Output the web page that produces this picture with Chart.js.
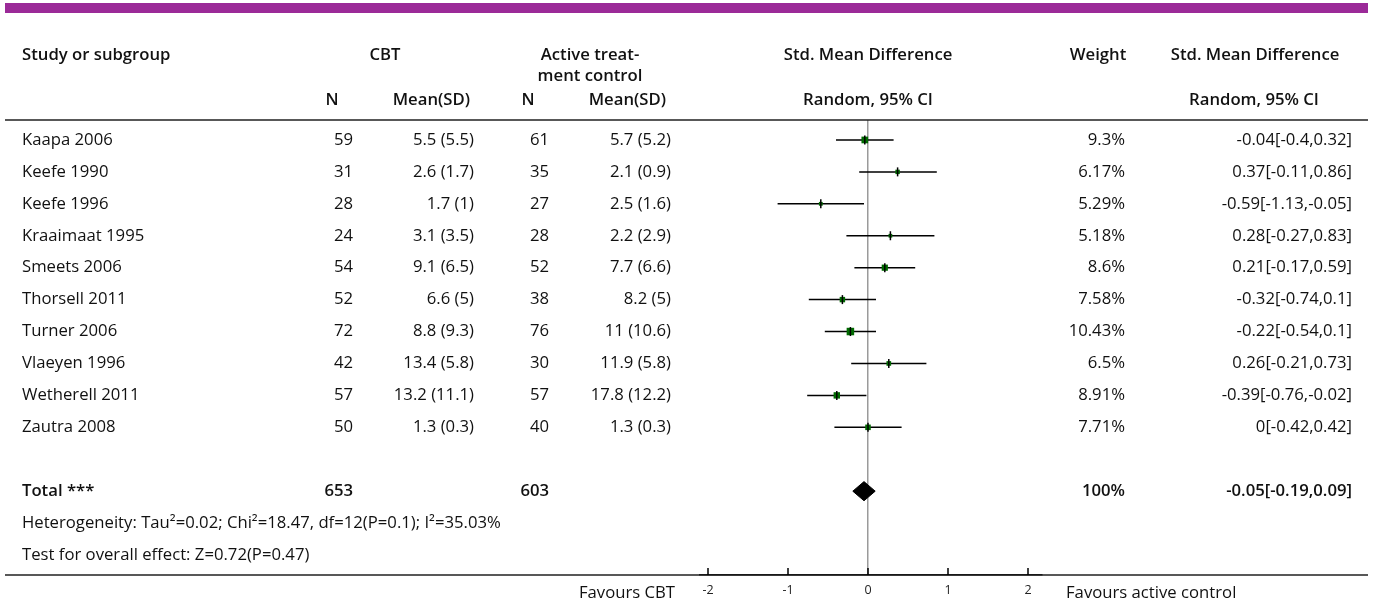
<!DOCTYPE html>
<html>
<head>
<meta charset="utf-8">
<script src="https://cdn.jsdelivr.net/npm/chart.js@4"></script>
<style>
  html, body { margin: 0; padding: 0; background: #fff; }
  canvas { display: block; }
</style>
</head>
<body>
<canvas id="forest" width="1375" height="606"></canvas>
<script>
// Study data
const studies = ['Kaapa 2006', 'Keefe 1990', 'Keefe 1996', 'Kraaimaat 1995', 'Smeets 2006',
    'Thorsell 2011', 'Turner 2006', 'Vlaeyen 1996', 'Wetherell 2011', 'Zautra 2008'];
const cbtN = [59, 31, 28, 24, 54, 52, 72, 42, 57, 50];
const cbtMean = [5.5, 2.6, 1.7, 3.1, 9.1, 6.6, 8.8, 13.4, 13.2, 1.3];
const cbtSD = [5.5, 1.7, 1, 3.5, 6.5, 5, 9.3, 5.8, 11.1, 0.3];
const ctrlN = [61, 35, 27, 28, 52, 38, 76, 30, 57, 40];
const ctrlMean = [5.7, 2.1, 2.5, 2.2, 7.7, 8.2, 11, 11.9, 17.8, 1.3];
const ctrlSD = [5.2, 0.9, 1.6, 2.9, 6.6, 5, 10.6, 5.8, 12.2, 0.3];
const weights = [9.3, 6.17, 5.29, 5.18, 8.6, 7.58, 10.43, 6.5, 8.91, 7.71];
const smd = [-0.04, 0.37, -0.59, 0.28, 0.21, -0.32, -0.22, 0.26, -0.39, 0];
const ciLow = [-0.4, -0.11, -1.13, -0.27, -0.17, -0.74, -0.54, -0.21, -0.76, -0.42];
const ciHigh = [0.32, 0.86, -0.05, 0.83, 0.59, 0.1, 0.1, 0.73, -0.02, 0.42];

// Pooled result
const totalN = [653, 603];
const totalSmd = -0.05;
const totalCi = [-0.19, 0.09];
const totalRow = 11;

const xTicks = [-2, -1, 0, 1, 2];

const FONT = '"Open Sans", "Noto Sans", sans-serif';
const TEXT = '#111';

// CI lines as one broken line
const ciPoints = [];
studies.forEach((s, i) => {
    ciPoints.push({ x: ciLow[i], y: i }, { x: ciHigh[i], y: i }, { x: NaN, y: NaN });
});

const markPoints = studies.map((s, i) => ({ x: smd[i], y: i }));

const diamond = [
    { x: totalCi[0], y: totalRow },
    { x: totalSmd, y: totalRow - 0.3 },
    { x: totalCi[1], y: totalRow },
    { x: totalSmd, y: totalRow + 0.3 },
    { x: totalCi[0], y: totalRow }
];

const tablePlugin = {
    id: 'table',
    beforeDraw(chart) {
        const ctx = chart.ctx;
        ctx.save();
        // purple band
        ctx.fillStyle = '#9b2a98';
        ctx.fillRect(5, 3, 1363, 10);
        ctx.restore();
    },
    afterDraw(chart) {
        const ctx = chart.ctx;
        const xScale = chart.scales.x;
        const yScale = chart.scales.y;
        ctx.save();
        ctx.fillStyle = TEXT;
        ctx.textBaseline = 'middle';

        function txt(s, x, y, align, bold) {
            ctx.font = (bold ? '600 ' : '') + '16.7px ' + FONT;
            ctx.textAlign = align;
            ctx.fillText(s, x, y);
        }

        // header and bottom rules
        ctx.strokeStyle = '#222';
        ctx.lineWidth = 1.5;
        ctx.beginPath();
        ctx.moveTo(5, 120); ctx.lineTo(1368, 120);
        ctx.moveTo(5, 575); ctx.lineTo(1368, 575);
        ctx.stroke();

        // small upward ticks on the axis
        ctx.strokeStyle = '#000';
        ctx.lineWidth = 1.5;
        ctx.beginPath();
        xTicks.forEach(v => {
            const px = Math.round(xScale.getPixelForValue(v));
            ctx.moveTo(px, 575); ctx.lineTo(px, 568);
        });
        ctx.stroke();

        // headers
        txt('Study or subgroup', 22, 55, 'left', true);
        txt('CBT', 385, 55, 'center', true);
        txt('Active treat-', 590, 55, 'center', true);
        txt('ment control', 590, 76, 'center', true);
        txt('Std. Mean Difference', 868, 55, 'center', true);
        txt('Weight', 1098, 55, 'center', true);
        txt('Std. Mean Difference', 1255, 55, 'center', true);
        txt('N', 332, 100, 'center', true);
        txt('Mean(SD)', 470, 100, 'right', true);
        txt('N', 528, 100, 'center', true);
        txt('Mean(SD)', 666, 100, 'right', true);
        txt('Random, 95% CI', 868, 100, 'center', true);
        txt('Random, 95% CI', 1254, 100, 'center', true);

        // study rows
        studies.forEach((s, i) => {
            const y = yScale.getPixelForValue(i);
            txt(s, 22, y, 'left');
            txt(String(cbtN[i]), 353, y, 'right');
            txt(cbtMean[i] + ' (' + cbtSD[i] + ')', 474, y, 'right');
            txt(String(ctrlN[i]), 549, y, 'right');
            txt(ctrlMean[i] + ' (' + ctrlSD[i] + ')', 671, y, 'right');
            txt(weights[i] + '%', 1125, y, 'right');
            txt(smd[i] + '[' + ciLow[i] + ',' + ciHigh[i] + ']', 1352, y, 'right');
        });

        // total rows
        const yt = yScale.getPixelForValue(totalRow);
        txt('Total ***', 22, yt, 'left', true);
        txt(String(totalN[0]), 353, yt, 'right', true);
        txt(String(totalN[1]), 549, yt, 'right', true);
        txt('100%', 1125, yt, 'right', true);
        txt(totalSmd + '[' + totalCi[0] + ',' + totalCi[1] + ']', 1352, yt, 'right', true);
        txt('Heterogeneity: Tau\u00b2=0.02; Chi\u00b2=18.47, df=12(P=0.1); I\u00b2=35.03%', 22, yScale.getPixelForValue(12), 'left');
        txt('Test for overall effect: Z=0.72(P=0.47)', 22, yScale.getPixelForValue(13), 'left');

        // favours labels
        txt('Favours CBT', 675, 593, 'right');
        txt('Favours active control', 1066, 593, 'left');
        ctx.restore();
    }
};

new Chart(document.getElementById('forest'), {
    type: 'scatter',
    data: {
        datasets: [
            {
                // vertical ticks through markers
                data: markPoints,
                pointStyle: 'line',
                rotation: 90,
                pointRadius: 4.5,
                borderColor: '#000',
                borderWidth: 1.5,
                order: 1
            },
            {
                data: markPoints,
                pointStyle: 'rect',
                pointRadius: weights.map(w => w * 0.72 / Math.SQRT2),
                backgroundColor: '#006a00',
                borderColor: '#006a00',
                borderWidth: 0,
                order: 2
            },
            {
                type: 'line',
                data: ciPoints,
                borderColor: '#000',
                borderWidth: 1.5,
                pointRadius: 0,
                spanGaps: false,
                order: 3
            },
            {
                type: 'line',
                data: diamond,
                borderColor: '#000',
                backgroundColor: '#000',
                borderWidth: 1,
                pointRadius: 0,
                fill: 'shape',
                order: 4
            }
        ]
    },
    options: {
        responsive: false,
        animation: false,
        layout: { padding: { left: 700, right: 333, top: 120, bottom: 0 } },
        plugins: {
            legend: { display: false },
            tooltip: { enabled: false }
        },
        scales: {
            x: {
                type: 'linear',
                min: -2.1,
                max: 2.175,
                afterBuildTicks(scale) {
                    scale.ticks = xTicks.map(v => ({ value: v }));
                },
                afterFit(scale) {
                    scale.height = 31;
                },
                border: { color: '#000', width: 1.5 },
                grid: {
                    drawOnChartArea: true,
                    drawTicks: false,
                    color: c => (c.tick && c.tick.value === 0) ? '#9a9a9a' : 'rgba(0,0,0,0)',
                    lineWidth: 1.5
                },
                ticks: {
                    padding: 8,
                    color: '#222',
                    font: { family: FONT, size: 12.5 }
                }
            },
            y: {
                type: 'linear',
                min: -0.625,
                max: 13.625,
                reverse: true,
                display: false
            }
        }
    },
    plugins: [tablePlugin]
});
</script>
</body>
</html>
